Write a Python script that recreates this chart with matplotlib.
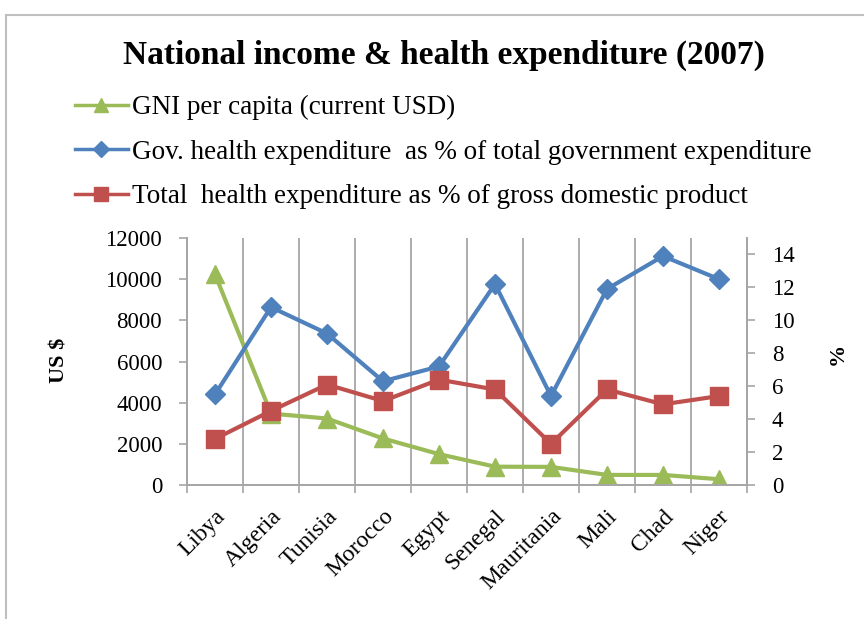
import numpy as np
import matplotlib
matplotlib.use('Agg')
import matplotlib.pyplot as plt
from matplotlib.patches import Rectangle
from matplotlib.lines import Line2D

countries = ['Libya', 'Algeria', 'Tunisia', 'Morocco', 'Egypt', 'Senegal',
             'Mauritania', 'Mali', 'Chad', 'Niger']
# GNI per capita, current USD (left axis)
gni = [10240, 3470, 3230, 2260, 1500, 890, 880, 490, 490, 280]
# percentages (right axis)
gov_health = [5.5, 10.8, 9.2, 6.3, 7.2, 12.2, 5.4, 11.9, 13.9, 12.5]
total_health = [2.8, 4.5, 6.1, 5.1, 6.4, 5.8, 2.5, 5.8, 4.9, 5.4]

GREEN = '#9BBB59'
BLUE = '#4F81BD'
RED = '#C0504D'
GRID = '#A6A6A6'

plt.rcParams['font.family'] = ['Liberation Serif', 'DejaVu Serif']

fig = plt.figure(figsize=(8.64, 6.19), dpi=100)
# chart frame
fig.patches.append(Rectangle((6 / 864, -0.1), 1.2, 1 - 15 / 619 + 0.1,
                             transform=fig.transFigure, fill=False,
                             edgecolor='#BFBFBF', linewidth=1.5))

ax = fig.add_axes([187 / 864, 1 - 485 / 619, (747 - 187) / 864, (485 - 238) / 619])
ax2 = ax.twinx()

x = np.arange(len(countries))

ax.plot(x, gni, color=GREEN, linewidth=3, marker='^', markersize=13,
        label='GNI per capita (current USD)')
ax2.plot(x, gov_health, color=BLUE, linewidth=3, marker='D', markersize=10,
         label='Gov. health expenditure  as % of total government expenditure')
ax2.plot(x, total_health, color=RED, linewidth=3, marker='s', markersize=13,
         label='Total  health expenditure as % of gross domestic product')

ax.set_xlim(-0.5, len(countries) - 0.5)
ax.set_ylim(0, 12000)
ax.set_yticks(np.arange(0, 12001, 2000))
ax2.set_ylim(0, 15)
ax2.set_yticks(np.arange(0, 15, 2))

ax.set_xticks(x)
ax.set_xticklabels(countries, rotation=45, ha='right', rotation_mode='anchor',
                   fontsize=17)
ax.set_xticks(np.arange(-0.5, len(countries)), minor=True)
ax.tick_params(axis='x', which='major', length=0, pad=15)
ax.tick_params(axis='x', which='minor', length=6, color=GRID, width=1.2)
ax.grid(True, which='minor', axis='x', color=GRID, linewidth=1.3)

ax.tick_params(axis='y', labelsize=16.5, color=GRID, length=6, width=1.2, pad=12)
ax2.tick_params(axis='y', labelsize=16.5, color=GRID, length=6, width=1.2, pad=12)

for a in (ax, ax2):
    a.spines['top'].set_visible(False)
    for s in ('left', 'right', 'bottom'):
        a.spines[s].set_color(GRID)
        a.spines[s].set_linewidth(1.3)

ax.set_ylabel('US $', fontsize=16, fontweight='bold')
ax.yaxis.set_label_coords(-0.21, 0.506)
ax2.set_ylabel('%', fontsize=16, fontweight='bold')
ax2.yaxis.set_label_coords(1.145, 0.53)

fig.text(0.514, 1 - 55 / 619, 'National income & health expenditure (2007)',
         ha='center', va='center', fontsize=24, fontweight='bold')

handles = [Line2D([], [], color=GREEN, linewidth=2.5, marker='^', markersize=10),
           Line2D([], [], color=BLUE, linewidth=2.5, marker='D', markersize=8),
           Line2D([], [], color=RED, linewidth=2.5, marker='s', markersize=10)]
labels = [l.get_label() for l in ax.get_lines() + ax2.get_lines()]
fig.legend(handles, labels, loc='upper left', bbox_to_anchor=(75 / 864, 1 - 95 / 619),
           frameon=False, fontsize=19.5, handlelength=1.95, handletextpad=0.15,
           labelspacing=0.72, borderpad=0, borderaxespad=0)

fig.savefig('out.png', dpi=100)
